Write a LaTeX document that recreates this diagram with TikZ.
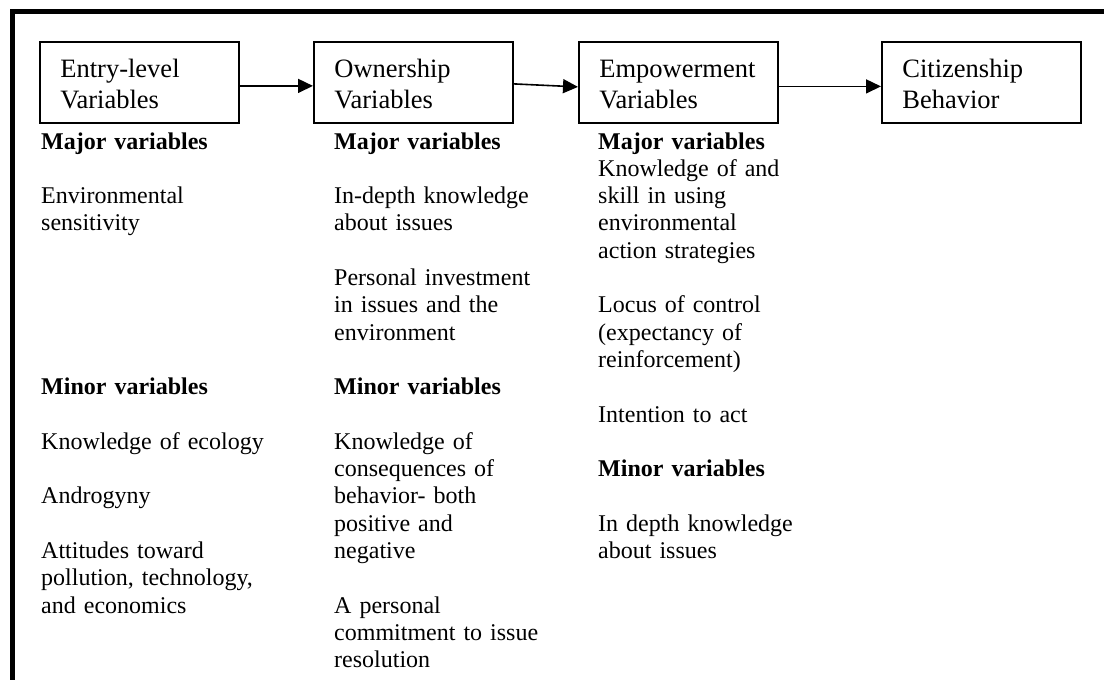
\documentclass[tikz,border=0pt]{standalone}
\usepackage{fontspec}
\setmainfont{Liberation Serif}
\usetikzlibrary{arrows.meta}

\begin{document}
\begin{tikzpicture}[
        x=1pt, y=-1pt,
        varbox/.style={draw, line width=1.8pt, anchor=north west,
            minimum width=199pt, minimum height=81pt,
            inner xsep=20.5pt, inner ysep=0pt, text width=158pt, align=left,
            text height=36pt, text depth=45pt,
            font=\fontsize{26.5}{30.5}\selectfont},
        arr/.style={-{Triangle[length=15pt,width=14pt]}, line width=1.6pt},
        body/.style={anchor=base west, inner sep=0pt, text width=240pt,
            align=left, font=\fontsize{24}{27.3}\selectfont},
        head/.style={body, font=\fontsize{24}{27.3}\selectfont\bfseries}
    ]
    \useasboundingbox (0,0) rectangle (1104,680);

    % --- cornice (solo lati sinistro e superiore) ---
    \draw[line width=4.6pt] (12.5,690) -- (12.5,11.5) -- (1110,11.5);

    % --- le quattro caselle ---
    \node[varbox] (entry) at (39,41)  {Entry-level\\Variables};
    \node[varbox] (own)   at (313,41) {Ownership\\Variables};
    \node[varbox] (emp)   at (578,41) {Empowerment\\Variables};
    \node[varbox] (cit)   at (881,41) {Citizenship\\Behavior};

    \draw[arr] ([yshift=-3.5pt]entry.east) -- ([yshift=-3.5pt]own.west);
    \draw[arr] ([yshift=-1.5pt]own.east) -- ([yshift=-4.5pt]emp.west);
    \draw[arr] ([yshift=-4pt]emp.east) -- ([yshift=-4pt]cit.west);

    % --- colonna 1 ---
    \node[head] (c1maj)   at (41,149)   {Major variables};
    \node[body] (c1sens)  at (41,203.6) {Environmental\\sensitivity};
    \node[head] (c1min)   at (41,394.7) {Minor variables};
    \node[body] (c1eco)   at (41,449.3) {Knowledge of ecology};
    \node[body] (c1andro) at (41,503.9) {Androgyny};
    \node[body] (c1att)   at (41,558.5) {Attitudes toward\\pollution, technology,\\and economics};

    % --- colonna 2 ---
    \node[head] (c2maj)    at (334,149)   {Major variables};
    \node[body] (c2depth)  at (334,203.6) {In-depth knowledge\\about issues};
    \node[body] (c2invest) at (334,285.5) {Personal investment\\in issues and the\\environment};
    \node[head] (c2min)    at (334,394.7) {Minor variables};
    \node[body] (c2cons)   at (334,449.3) {Knowledge of\\consequences of\\behavior- both\\positive and\\negative};
    \node[body] (c2commit) at (334,613.1) {A personal\\commitment to issue\\resolution};

    % --- colonna 3 ---
    \node[head] (c3maj)    at (598,149)   {Major variables};
    \node[body] (c3skill)  at (598,176.3) {Knowledge of and\\skill in using\\environmental\\action strategies};
    \node[body] (c3locus)  at (598,312.8) {Locus of control\\(expectancy of\\reinforcement)};
    \node[body] (c3intent) at (598,422)   {Intention to act};
    \node[head] (c3min)    at (598,476.6) {Minor variables};
    \node[body] (c3depth)  at (598,531.2) {In depth knowledge\\about issues};

\end{tikzpicture}
\end{document}
